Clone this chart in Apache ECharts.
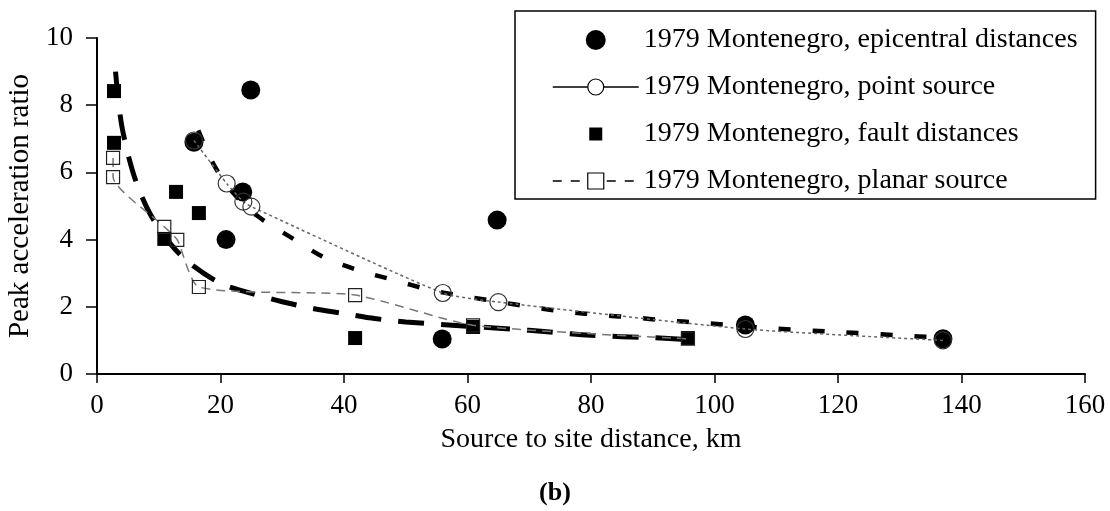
<!DOCTYPE html>
<html lang="en">
<head>
    <meta charset="UTF-8">
    <title>Peak acceleration ratio</title>
    <style>
        body, html {
            margin: 0;
            width: 100%;
            height: 100%;
            background: #fff;
        }
        #container {
            width: 1110px;
            height: 511px;
        }
    </style>
    <script src="https://cdn.jsdelivr.net/npm/echarts@6/dist/echarts.min.js"></script>
</head>
<body>
<div id="container"></div>
<script type="text/javascript">
    // [distance km, ratio]
    var epicentral = [[15.7, 6.9], [20.9, 4.0], [23.6, 5.42], [24.9, 8.45], [55.9, 1.04], [64.8, 4.58], [105, 1.46], [137, 1.05]];
    var pointSource = [[15.7, 6.95], [21, 5.67], [23.7, 5.13], [25, 4.98], [56, 2.41], [65, 2.14], [105, 1.34], [137, 1.0]];
    var faultDist = [[2.75, 8.42], [2.75, 6.88], [10.9, 4.02], [12.8, 5.42], [16.5, 4.79], [41.8, 1.07], [60.9, 1.4], [95.7, 1.07]];
    var planarSource = [[2.6, 6.43], [2.6, 5.86], [10.9, 4.38], [13, 3.99], [16.5, 2.59], [41.8, 2.35], [60.9, 1.45], [95.7, 1.05]];
    // heavy dashed fitted curves (not in legend)
    var fitFault = [[3, 9.0], [4, 7.4], [6, 5.9], [8.5, 4.8], [12, 3.85], [15, 3.3], [20, 2.7], [25, 2.4], [30, 2.15], [35, 1.95],
        [40, 1.8], [45, 1.65], [50, 1.55], [60, 1.42], [70, 1.3], [80, 1.15], [90, 1.08], [96, 1.02]];
    var fitEpicentral = [[16.4, 7.25], [19, 6.2], [22, 5.4], [26, 4.7], [32, 4.0], [37, 3.45], [43, 3.05], [48, 2.8], [54, 2.5],
        [60, 2.3], [65, 2.15], [70, 2.0], [76, 1.85], [82, 1.75], [87, 1.68], [92, 1.6], [98, 1.52], [105, 1.42],
        [110, 1.35], [120, 1.25], [130, 1.15], [137, 1.08]];
    var legendNames = ['1979 Montenegro, epicentral distances', '1979 Montenegro, point source',
        '1979 Montenegro, fault distances', '1979 Montenegro, planar source'];

    var font = 'Liberation Serif';
    // small square inside a 20x20 box so the legend icon keeps its size
    var smallSquare = 'path://M0,0M20,20M3.5,3.5h13v13h-13z';
    var myChart = echarts.init(document.getElementById('container'));

    var option = {
        animation: false,
        backgroundColor: '#fff',
        title: {
            text: '(b)',
            left: 'center',
            top: 475,
            textStyle: {fontFamily: font, fontSize: 26, fontWeight: 'bold', color: '#000'}
        },
        grid: {left: 97, right: 25, top: 38, bottom: 137, outerBoundsMode: 'none'},
        legend: {
            orient: 'vertical',
            left: 515,
            top: 11,
            padding: [15, 18, 4, 37],
            itemGap: 19,
            itemWidth: 86,
            itemHeight: 20,
            borderColor: '#000',
            borderWidth: 1.5,
            textStyle: {fontFamily: font, fontSize: 28, color: '#000'},
            data: [
                {name: legendNames[0], icon: 'circle', itemStyle: {color: '#000'}},
                {name: legendNames[1], itemStyle: {color: '#fff', borderColor: '#000', borderWidth: 1.2},
                    lineStyle: {color: '#000', type: 'solid', width: 1.5}},
                {name: legendNames[2], icon: smallSquare, itemStyle: {color: '#000'}},
                {name: legendNames[3], itemStyle: {color: '#fff', borderColor: '#000', borderWidth: 1.2},
                    lineStyle: {color: '#000', type: [9, 9], width: 1.5}}
            ]
        },
        xAxis: {
            type: 'value',
            min: 0, max: 160, interval: 20,
            name: 'Source to site distance, km',
            nameLocation: 'middle',
            nameGap: 52,
            nameTextStyle: {fontFamily: font, fontSize: 28, color: '#000'},
            axisLine: {lineStyle: {color: '#000', width: 2}},
            axisTick: {length: 9, lineStyle: {color: '#000', width: 1.5}},
            axisLabel: {fontFamily: font, fontSize: 27, color: '#000', margin: 18},
            splitLine: {show: false}
        },
        yAxis: {
            type: 'value',
            min: 0, max: 10, interval: 2,
            name: 'Peak acceleration ratio',
            nameLocation: 'middle',
            nameGap: 61,
            nameTextStyle: {fontFamily: font, fontSize: 29, color: '#000'},
            axisLine: {show: true, lineStyle: {color: '#000', width: 2}},
            axisTick: {show: true, length: 11, lineStyle: {color: '#000', width: 1.5}},
            axisLabel: {fontFamily: font, fontSize: 27, color: '#000', margin: 24},
            splitLine: {show: false}
        },
        series: [
            {
                type: 'line', data: fitFault, smooth: 0.3, showSymbol: false, silent: true,
                lineStyle: {color: '#000', width: 5, type: [26, 17]}
            },
            {
                type: 'line', data: fitEpicentral, smooth: 0.3, showSymbol: false, silent: true,
                lineStyle: {color: '#000', width: 4.5, type: [12, 22]}
            },
            {
                name: legendNames[1], type: 'line', data: pointSource, smooth: 0.2,
                symbol: 'circle', symbolSize: 17, showAllSymbol: true,
                lineStyle: {color: '#666', width: 1.5, type: [3, 3]},
                itemStyle: {color: 'transparent', borderColor: '#333', borderWidth: 1.2}
            },
            {
                name: legendNames[3], type: 'line', data: planarSource, smooth: 0.2,
                symbol: 'rect', symbolSize: 13, showAllSymbol: true,
                lineStyle: {color: '#777', width: 1.5, type: [9, 6]},
                itemStyle: {color: 'transparent', borderColor: '#222', borderWidth: 1.2}
            },
            {
                name: legendNames[0], type: 'scatter', data: epicentral,
                symbol: 'circle', symbolSize: 19,
                itemStyle: {color: '#000', opacity: 1}
            },
            {
                name: legendNames[2], type: 'scatter', data: faultDist,
                symbol: 'rect', symbolSize: 14,
                itemStyle: {color: '#000', opacity: 1}
            }
        ]
    };
    myChart.setOption(option);
</script>
</body>
</html>
